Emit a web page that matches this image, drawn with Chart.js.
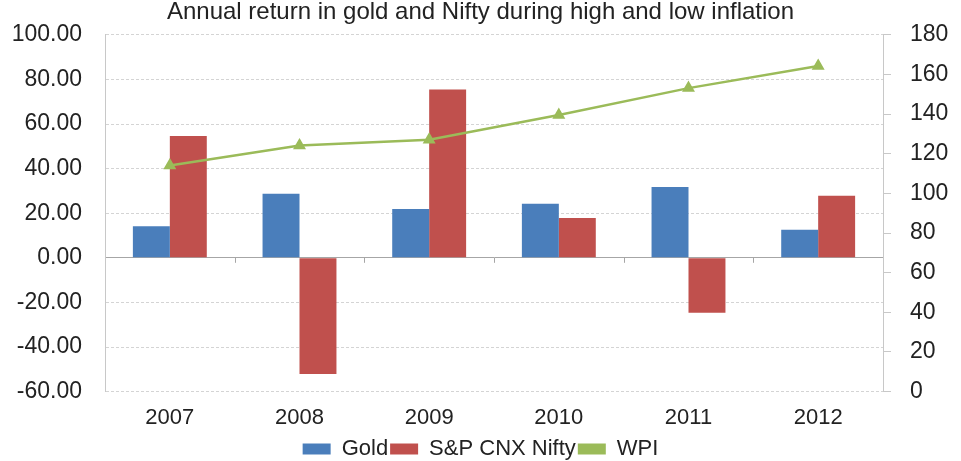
<!DOCTYPE html>
<html>
<head>
<meta charset="utf-8">
<script src="https://cdn.jsdelivr.net/npm/chart.js@4"></script>
<style>
html,body{margin:0;padding:0;background:#fff;}
#wrap{width:961px;height:461px;}
</style>
</head>
<body>
<div id="wrap"><canvas id="c" width="961" height="461"></canvas></div>
<script>
const categories = ['2007','2008','2009','2010','2011','2012'];
const goldReturns = [14.1, 28.7, 21.9, 24.2, 31.7, 12.6];
const niftyReturns = [54.6, -52.1, 75.5, 17.9, -24.6, 27.8];
const wpiValues = [114.1, 124.2, 127.1, 139.5, 153.1, 164.3];
const titleText = 'Annual return in gold and Nifty during high and low inflation';

const FONT = '"Liberation Sans", Arial, sans-serif';

const catTicks = {
  id: 'catTicks',
  afterDatasetsDraw(chart) {
    const x = chart.scales.x, y = chart.scales.y;
    const ctx = chart.ctx;
    const y0 = y.getPixelForValue(0);
    const step = (x.right - x.left) / categories.length;
    ctx.save();
    ctx.strokeStyle = '#a6a6a6';
    ctx.lineWidth = 1;
    for (let i = 1; i < categories.length; i++) {
      const px = Math.round(x.getPixelForValue(i) - step / 2) + 0.5;
      ctx.beginPath();
      ctx.moveTo(px, y0);
      ctx.lineTo(px, y0 + 5);
      ctx.stroke();
    }
    ctx.restore();
  }
};

new Chart(document.getElementById('c'), {
  data: {
    labels: categories,
    datasets: [
      {
        type: 'line', label: 'WPI', data: wpiValues, yAxisID: 'y2', order: 0,
        borderColor: '#9bbb59', backgroundColor: '#9bbb59', borderWidth: 2.5,
        pointStyle: 'triangle', pointRadius: 5, tension: 0
      },
      {
        type: 'bar', label: 'Gold', data: goldReturns, yAxisID: 'y', order: 1,
        backgroundColor: '#4a7ebb', borderWidth: 0,
        categoryPercentage: 0.57, barPercentage: 1
      },
      {
        type: 'bar', label: 'S&P CNX Nifty', data: niftyReturns, yAxisID: 'y', order: 2,
        backgroundColor: '#c0504d', borderWidth: 0,
        categoryPercentage: 0.57, barPercentage: 1
      }
    ]
  },
  options: {
    responsive: false,
    animation: false,
    layout: { padding: { left: 0, right: 0, top: 0, bottom: -9 } },
    plugins: {
      title: {
        display: true, text: titleText, color: '#222',
        font: { family: FONT, size: 24, weight: 'normal' }, padding: { top: -2, bottom: 8 }
      },
      legend: {
        position: 'bottom',
        labels: {
          color: '#222', font: { family: FONT, size: 22 },
          boxWidth: 28, boxHeight: 11, padding: 2,
          generateLabels(chart) {
            const order = [1, 2, 0];
            return order.map(i => {
              const ds = chart.data.datasets[i];
              return { text: ds.label, fillStyle: ds.backgroundColor, strokeStyle: ds.backgroundColor,
                lineWidth: 0, datasetIndex: i, fontColor: '#222', hidden: false };
            });
          }
        }
      },
      tooltip: { enabled: false }
    },
    scales: {
      x: {
        grid: { display: false },
        border: { display: false },
        ticks: { color: '#222', font: { family: FONT, size: 22 }, padding: 5 }
      },
      y: {
        position: 'left', min: -60, max: 100,
        afterFit(scale) { scale.width = 105; scale.paddingTop = 0; },
        ticks: { stepSize: 20, color: '#222', font: { family: FONT, size: 23 }, padding: 23,
          callback: v => Number(v).toFixed(2) },
        grid: {
          drawTicks: false,
          color: ctx => (ctx.tick && ctx.tick.value === 0) ? '#a6a6a6' : '#d4d4d4',
          lineWidth: 1
        },
        border: { display: true, color: '#c8c8c8', dash: ctx => (ctx.tick && ctx.tick.value === 0) ? [] : [3, 2] }
      },
      y2: {
        position: 'right', min: 0, max: 180,
        afterFit(scale) { scale.width = 78; scale.paddingTop = 0; },
        ticks: { stepSize: 20, color: '#222', font: { family: FONT, size: 23 }, padding: 19 },
        grid: { drawOnChartArea: false, drawTicks: true, tickLength: 8, color: '#c8c8c8' },
        border: { display: true, color: '#c8c8c8' }
      }
    }
  },
  plugins: [catTicks]
});
</script>
</body>
</html>
